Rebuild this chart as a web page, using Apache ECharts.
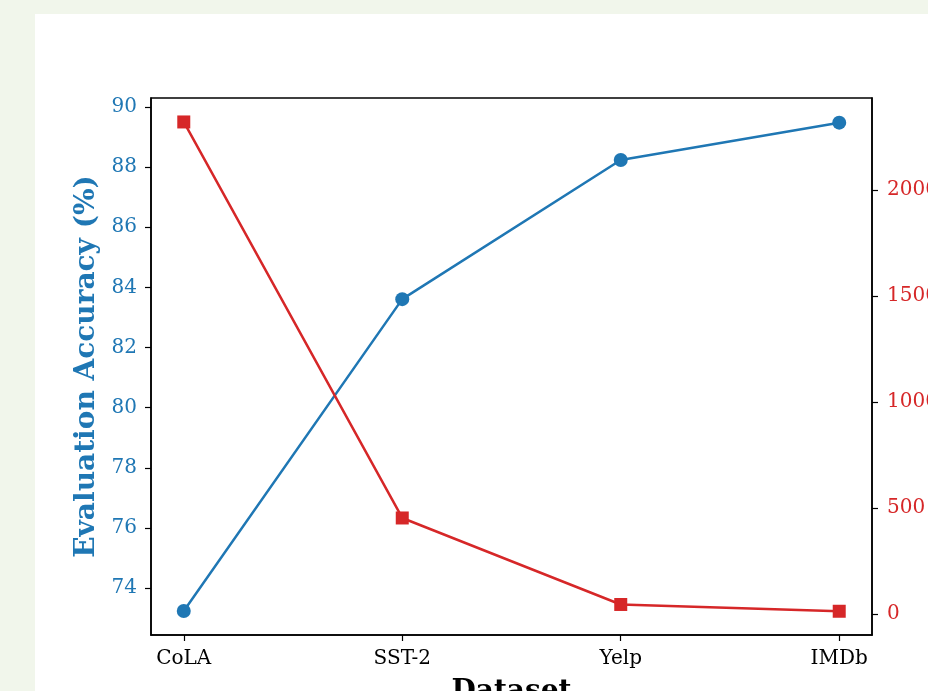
<!DOCTYPE html>
<html>
<head>
<meta charset="utf-8">
<script src="https://cdn.jsdelivr.net/npm/echarts@6/dist/echarts.min.js"></script>
<style>
html,body{margin:0;padding:0;background:#f1f6eb;}
#c{width:928px;height:691px;}
</style>
</head>
<body>
<div id="c"></div>
<script>
const categories = ['CoLA', 'SST-2', 'Yelp', 'IMDb'];
const accuracy = [73.24, 83.61, 88.24, 89.48];
const timeValues = [2321, 453, 45, 13];
const leftTicks = [74, 76, 78, 80, 82, 84, 86, 88, 90];
const rightTicks = [0, 500, 1000, 1500, 2000];

const FONT = 'DejaVu Serif';
const BLUE = '#1f77b4';
const RED = '#d62728';

const chart = echarts.init(document.getElementById('c'), null, {renderer: 'canvas'});
chart.setOption({
  backgroundColor: '#f1f6eb',
  animation: false,
  graphic: [{
    type: 'rect', left: 35, top: 14, z: -10,
    shape: {width: 893, height: 677},
    style: {fill: '#ffffff'}
  }],
  grid: {
    left: 151, top: 98, right: 56, bottom: 56,
    containLabel: false, outerBoundsMode: 'none',
    show: true, borderColor: '#000', borderWidth: 1.5, backgroundColor: 'transparent'
  },
  xAxis: {
    type: 'value', min: -0.15, max: 3.15,
    name: 'Dataset', nameLocation: 'middle', nameGap: 43,
    nameTextStyle: {fontFamily: FONT, fontWeight: 'bold', fontSize: 28, color: '#000'},
    splitLine: {show: false},
    axisLine: {show: true, onZero: false, lineStyle: {color: '#000', width: 1.5}},
    axisTick: {show: true, length: 6, lineStyle: {color: '#000', width: 1.2}, customValues: [0, 1, 2, 3]},
    axisLabel: {
      fontFamily: FONT, fontSize: 20, color: '#000', margin: 14,
      customValues: [0, 1, 2, 3],
      formatter: v => categories[Math.round(v)]
    }
  },
  yAxis: [{
    type: 'value', min: 72.44, max: 90.30, position: 'left',
    name: 'Evaluation Accuracy (%)', nameLocation: 'middle', nameGap: 48,
    nameTextStyle: {fontFamily: FONT, fontWeight: 'bold', fontSize: 28, color: BLUE},
    splitLine: {show: false},
    axisLine: {show: true, onZero: false, lineStyle: {color: '#000', width: 1.5}},
    axisTick: {show: true, length: 6, lineStyle: {color: '#000', width: 1.2}, customValues: leftTicks},
    axisLabel: {fontFamily: FONT, fontSize: 20, color: BLUE, margin: 14, customValues: leftTicks,
      formatter: v => String(v)}
  }, {
    type: 'value', min: -99, max: 2434, position: 'right',
    splitLine: {show: false},
    axisLine: {show: true, onZero: false, lineStyle: {color: '#000', width: 1.5}},
    axisTick: {show: true, length: 6, lineStyle: {color: '#000', width: 1.2}, customValues: rightTicks},
    axisLabel: {fontFamily: FONT, fontSize: 20, color: RED, margin: 15, customValues: rightTicks,
      formatter: v => String(v)}
  }],
  series: [{
    type: 'line', yAxisIndex: 0,
    data: accuracy.map((v, i) => [i, v]),
    symbol: 'circle', symbolSize: 14,
    lineStyle: {color: BLUE, width: 2.5},
    itemStyle: {color: BLUE},
    z: 2
  }, {
    type: 'line', yAxisIndex: 1,
    data: timeValues.map((v, i) => [i, v]),
    symbol: 'rect', symbolSize: 13,
    lineStyle: {color: RED, width: 2.5},
    itemStyle: {color: RED},
    z: 3
  }]
});
</script>
</body>
</html>
